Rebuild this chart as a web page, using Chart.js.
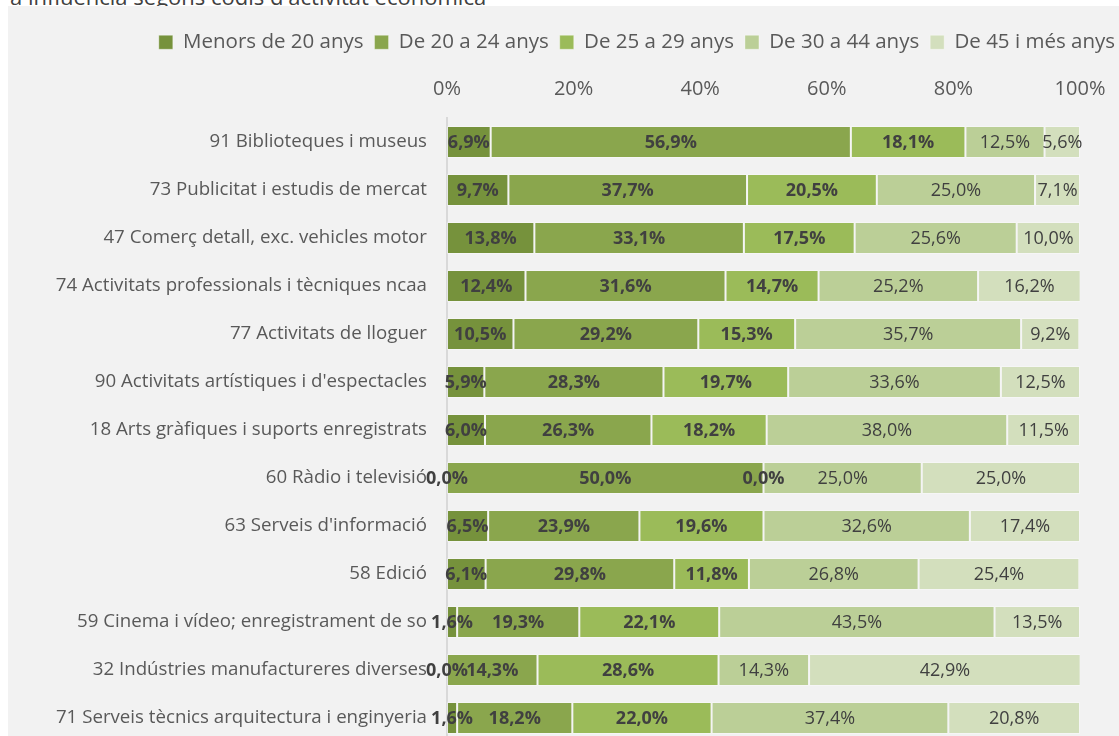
<!DOCTYPE html>
<html>
<head>
<meta charset="utf-8">
<script src="https://cdn.jsdelivr.net/npm/chart.js@4"></script>
<style>
  html, body { margin: 0; padding: 0; background: #fff; overflow: hidden; }
  body { width: 1119px; height: 736px; position: relative; }
  #title {
    position: absolute; left: 10px; top: -17px;
    font: 22px "Open Sans", sans-serif; color: #404040; line-height: 26px;
    white-space: nowrap;
  }
  #wrap {
    position: absolute; left: 8px; top: 6px;
    width: 1111px; height: 742px; background: #f2f2f2;
  }
  #chart { display: block; }
</style>
</head>
<body>
<div id="title">a influència segons codis d'activitat econòmica</div>
<div id="wrap"><canvas id="chart" width="1111" height="742"></canvas></div>
<script>
const categories = [
  '91 Biblioteques i museus',
  '73 Publicitat i estudis de mercat',
  '47 Comerç detall, exc. vehicles motor',
  '74 Activitats professionals i tècniques ncaa',
  '77 Activitats de lloguer',
  "90 Activitats artístiques i d'espectacles",
  '18 Arts gràfiques i suports enregistrats',
  '60 Ràdio i televisió',
  "63 Serveis d'informació",
  '58 Edició',
  '59 Cinema i vídeo; enregistrament de so',
  '32 Indústries manufactureres diverses',
  '71 Serveis tècnics arquitectura i enginyeria'
];

const seriesNames = ['Menors de 20 anys', 'De 20 a 24 anys', 'De 25 a 29 anys', 'De 30 a 44 anys', 'De 45 i més anys'];

const menors20 = [6.9, 9.7, 13.8, 12.4, 10.5, 5.9, 6.0, 0.0, 6.5, 6.1, 1.6, 0.0, 1.6];
const de20a24  = [56.9, 37.7, 33.1, 31.6, 29.2, 28.3, 26.3, 50.0, 23.9, 29.8, 19.3, 14.3, 18.2];
const de25a29  = [18.1, 20.5, 17.5, 14.7, 15.3, 19.7, 18.2, 0.0, 19.6, 11.8, 22.1, 28.6, 22.0];
const de30a44  = [12.5, 25.0, 25.6, 25.2, 35.7, 33.6, 38.0, 25.0, 32.6, 26.8, 43.5, 14.3, 37.4];
const de45     = [5.6, 7.1, 10.0, 16.2, 9.2, 12.5, 11.5, 25.0, 17.4, 25.4, 13.5, 42.9, 20.8];

const xTicks = [0, 20, 40, 60, 80, 100];

const colors = ['#76923c', '#8aa64d', '#9bbb59', '#bbcf97', '#d3dfbd'];
const boldLabels = [true, true, true, false, false];

const FONT = '"Open Sans", sans-serif';

// etiquetes de valor al centre de cada segment
const valueLabels = {
  id: 'valueLabels',
  afterDatasetsDraw(chart) {
    const ctx = chart.ctx;
    ctx.save();
    ctx.textAlign = 'center';
    ctx.textBaseline = 'middle';
    ctx.fillStyle = '#404040';
    chart.data.datasets.forEach((ds, i) => {
      const meta = chart.getDatasetMeta(i);
      ctx.font = (boldLabels[i] ? 'bold ' : '') + '18px ' + FONT;
      meta.data.forEach((bar, j) => {
        const v = ds.data[j];
        const x = (bar.x + bar.base) / 2;
        ctx.fillText(v.toFixed(1).replace('.', ',') + '%', x, bar.y + 1);
      });
    });
    ctx.restore();
  }
};

// sense marges automàtics de les etiquetes
function noPadding(scale) {
  scale.paddingLeft = 0;
  scale.paddingRight = 0;
  scale.paddingTop = 0;
  scale.paddingBottom = 0;
}

const allSeries = [menors20, de20a24, de25a29, de30a44, de45];

new Chart(document.getElementById('chart'), {
  type: 'bar',
  data: {
    labels: categories,
    datasets: allSeries.map((d, i) => ({
      label: seriesNames[i],
      data: d,
      backgroundColor: colors[i],
      borderColor: 'rgba(255,255,255,0.35)',
      borderWidth: 1,
      borderSkipped: false,
      barPercentage: 0.667,
      categoryPercentage: 1
    }))
  },
  options: {
    indexAxis: 'y',
    responsive: false,
    animation: false,
    layout: { padding: { left: 0, right: -7, top: 15, bottom: 6 } },
    plugins: {
      legend: {
        position: 'top',
        align: 'end',
        labels: {
          boxWidth: 14,
          boxHeight: 14,
          padding: 11,
          color: '#595959',
          font: { family: FONT, size: 20.5 }
        }
      },
      tooltip: { enabled: false }
    },
    scales: {
      x: {
        position: 'top',
        stacked: true,
        min: 0,
        max: 100,
        afterBuildTicks(scale) { scale.ticks = xTicks.map(v => ({ value: v })); },
        ticks: {
          color: '#595959',
          font: { family: FONT, size: 20 },
          padding: 17,
          callback: v => v + '%'
        },
        grid: { display: false, drawTicks: false },
        border: { display: false },
        afterFit(scale) { scale.height = 55.5; noPadding(scale); }
      },
      y: {
        stacked: true,
        ticks: {
          color: '#595959',
          font: { family: FONT, size: 18.7 },
          padding: 20,
          autoSkip: false
        },
        grid: { display: false, drawTicks: false },
        border: { display: true, color: '#d9d9d9', width: 2 },
        afterFit(scale) { scale.width = 439; noPadding(scale); }
      },
      // eix buit a la dreta per reservar el marge
      y2: {
        position: 'right',
        ticks: { display: false },
        grid: { display: false, drawTicks: false },
        border: { display: false },
        afterFit(scale) { scale.width = 46; noPadding(scale); }
      }
    }
  },
  plugins: [valueLabels]
});
</script>
</body>
</html>
